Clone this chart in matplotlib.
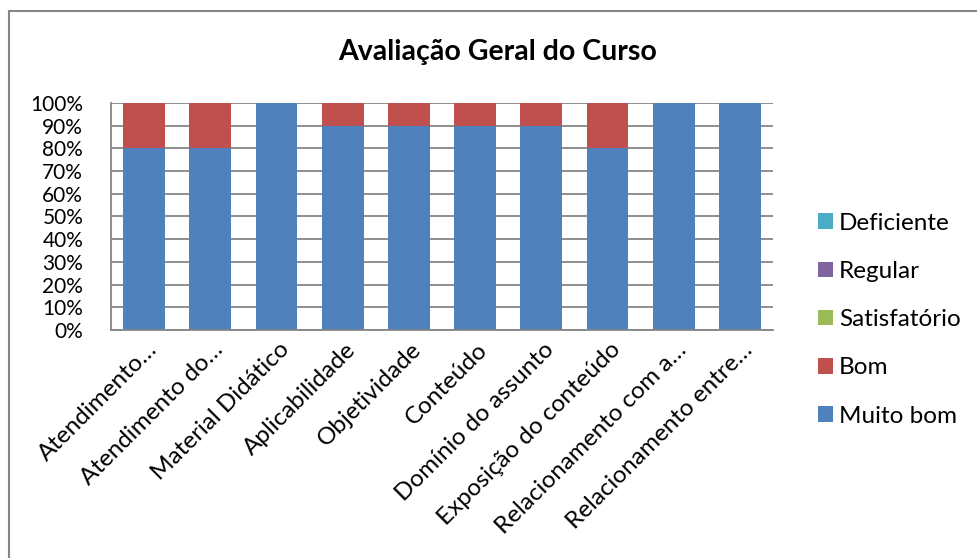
import numpy as np
import matplotlib.pyplot as plt
from matplotlib.lines import Line2D
from matplotlib.patches import Patch
from matplotlib.transforms import ScaledTranslation

plt.rcParams['font.family'] = ['Lato', 'DejaVu Sans']

categories = ["Atendimento…", "Atendimento do…", "Material Didático", "Aplicabilidade",
              "Objetividade", "Conteúdo", "Domínio do assunto", "Exposição do conteúdo",
              "Relacionamento com a…", "Relacionamento entre…"]
muito_bom = [80, 80, 100, 90, 90, 90, 90, 80, 100, 100]
bom = [20, 20, 0, 10, 10, 10, 10, 20, 0, 0]
satisfatorio = [0, 0, 0, 0, 0, 0, 0, 0, 0, 0]
regular = [0, 0, 0, 0, 0, 0, 0, 0, 0, 0]
deficiente = [0, 0, 0, 0, 0, 0, 0, 0, 0, 0]

series = [("Muito bom", muito_bom, "#4F81BD"),
          ("Bom", bom, "#C0504D"),
          ("Satisfatório", satisfatorio, "#9BBB59"),
          ("Regular", regular, "#8064A2"),
          ("Deficiente", deficiente, "#4BACC6")]

W, H = 977, 558
fig = plt.figure(figsize=(W / 100, H / 100), dpi=100)
ax = fig.add_axes([111 / W, 1 - 330 / H, 662 / W, 227 / H])

x = np.arange(len(categories))
bottom = np.zeros(len(categories))
for name, vals, col in series:
    ax.bar(x, vals, width=0.63, bottom=bottom, color=col, label=name, zorder=2)
    bottom += np.array(vals)

ax.set_xlim(-0.5, len(categories) - 0.5)
ax.set_ylim(0, 100)
ax.set_yticks(np.arange(0, 101, 10))
ax.set_yticklabels([f"{v}%" for v in range(0, 101, 10)], fontsize=15)
ax.yaxis.grid(True, color="#868686", linewidth=1.3, zorder=0)
ax.set_axisbelow(True)
ax.tick_params(axis="y", length=0, pad=20)
ax.tick_params(axis="x", length=0, pad=15)
ax.set_xticks(x)
ax.set_xticklabels(categories, rotation=45, ha="right", va="baseline",
                   rotation_mode="anchor", fontsize=17.5)
# labels end a little to the right of the bar centre, like the original
shift = ScaledTranslation(14 / 100, 0, fig.dpi_scale_trans)
for lab in ax.get_xticklabels():
    lab.set_transform(lab.get_transform() + shift)
for s in ["top", "right"]:
    ax.spines[s].set_visible(False)
for s in ["left", "bottom"]:
    ax.spines[s].set_color("#868686")
    ax.spines[s].set_linewidth(1.3)

fig.text(498 / W, 1 - 52 / H, "Avaliação Geral do Curso", ha="center", va="center",
         fontsize=20.5, fontweight="bold")

# outer chart border (only top and left edges are inside the picture)
fig.add_artist(Line2D([8.5 / W, 8.5 / W], [0, 1 - 10.5 / H], color="#868686", linewidth=1.5))
fig.add_artist(Line2D([8.5 / W, 1], [1 - 10.5 / H, 1 - 10.5 / H], color="#868686", linewidth=1.5))

handles = [Patch(facecolor=c, label=n) for n, v, c in series][::-1]
fig.legend(handles=handles, loc="upper left", bbox_to_anchor=(808 / W, 1 - 203 / H),
           frameon=False, fontsize=17.5, handlelength=0.62, handleheight=0.62,
           handletextpad=0.25, labelspacing=1.12, borderaxespad=0)

fig.savefig("out.png", dpi=100, facecolor="white")
